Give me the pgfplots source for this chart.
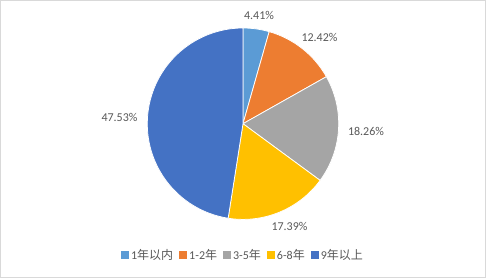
\documentclass[border=0pt]{standalone}
\usepackage{pgfplots}
\usepackage{pgfplotstable}
\pgfplotsset{compat=1.18}
\usepackage{fontspec}
\setmainfont{Carlito}
\newfontfamily\cjk{Noto Sans CJK SC}
\definecolor{c1}{HTML}{5B9BD5}
\definecolor{c2}{HTML}{ED7D31}
\definecolor{c3}{HTML}{A5A5A5}
\definecolor{c4}{HTML}{FFC000}
\definecolor{c5}{HTML}{4472C4}
\definecolor{txt}{HTML}{595959}
\definecolor{frame}{HTML}{D9D9D9}
\pgfplotstableread{
val lx ly
4.41 259 264
12.42 319.5 242
18.26 366 148
17.39 289.5 53
47.53 119.5 162
}\piedata
\begin{document}
\begin{tikzpicture}
\begin{axis}[
  scale only axis, width=486pt, height=279pt,
  xmin=0, xmax=486, ymin=0, ymax=279,
  hide axis, clip=false,
  /pgf/number format/assume math mode=true,
  legend columns=5,
  legend style={at={(0.5,{24/279})}, anchor=center, draw=none, fill=none,
    font=\fontsize{12}{14}\selectfont\color{txt}, nodes={inner sep=2pt},
    /tikz/every even column/.append style={column sep=4pt}},
  legend image code/.code={\fill[#1, draw=none] (0pt,-4pt) rectangle (8pt,4pt);},
]
\pgfplotsextra{
  \fill[white, draw=frame, line width=1pt] (axis cs:0.5,1.5) rectangle (axis cs:485.5,278.5);
  \gdef\cum{0}
  \foreach \i/\col in {0/c1,1/c2,2/c3,3/c4,4/c5}{
    \pgfplotstablegetelem{\i}{val}\of\piedata \let\v\pgfplotsretval
    \pgfplotstablegetelem{\i}{lx}\of\piedata \let\lx\pgfplotsretval
    \pgfplotstablegetelem{\i}{ly}\of\piedata \let\ly\pgfplotsretval
    \pgfmathsetmacro{\a}{90-3.6*\cum}
    \pgfmathsetmacro{\b}{90-3.6*(\cum+\v)}
    \fill[\col, draw=white, line width=0.75pt, line join=round] (axis cs:243,155.3) -- ++(\a:95.7pt) arc[start angle=\a, end angle=\b, radius=95.7pt] -- cycle;
    \node[text=txt, font=\fontsize{12}{14}\selectfont] at (axis cs:\lx,\ly) {\pgfmathprintnumber[fixed,precision=2,fixed zerofill,assume math mode=true]{\v}\%};
    \pgfmathsetmacro{\newcum}{\cum+\v}
    \xdef\cum{\newcum}
  }
}
\addlegendimage{fill=c1}\addlegendentry{1{\cjk 年以内}}
\addlegendimage{fill=c2}\addlegendentry{1-2{\cjk 年}}
\addlegendimage{fill=c3}\addlegendentry{3-5{\cjk 年}}
\addlegendimage{fill=c4}\addlegendentry{6-8{\cjk 年}}
\addlegendimage{fill=c5}\addlegendentry{9{\cjk 年以上}}
\end{axis}
\end{tikzpicture}
\end{document}
